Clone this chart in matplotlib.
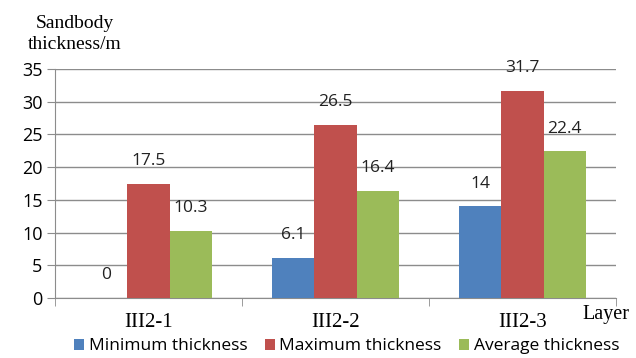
import matplotlib
matplotlib.use("Agg")
import matplotlib.pyplot as plt
import numpy as np

layers = ["III2-1", "III2-2", "III2-3"]
series_names = ["Minimum thickness", "Maximum thickness", "Average thickness"]
minimum = [0, 6.1, 14]
maximum = [17.5, 26.5, 31.7]
average = [10.3, 16.4, 22.4]
colors = ["#4F81BD", "#C0504D", "#9BBB59"]

fig = plt.figure(figsize=(6.36, 3.58), dpi=100)
ax = fig.add_axes([0.0865, 0.1676, 0.882, 0.6394])

x = np.arange(len(layers))
w = 0.225
grid_c = "#8C8C8C"
sans = ["Open Sans", "DejaVu Sans"]
serif = ["Liberation Serif", "DejaVu Serif"]
for i, (vals, name, c) in enumerate(zip([minimum, maximum, average], series_names, colors)):
    pos = x + (i - 1) * w
    ax.bar(pos, vals, width=w, color=c, label=name, zorder=3)
    for px, v in zip(pos, vals):
        ax.annotate(f"{v:g}", (px, v), xytext=(0, 16.5), textcoords="offset points",
                    ha="center", va="center", fontsize=12.5,
                    family=sans, color="#222222")

ax.set_xlim(-0.5, 2.5)
ax.set_ylim(0, 35)
ax.set_yticks(range(0, 36, 5))
ax.yaxis.grid(True, color=grid_c, linewidth=1.0, zorder=0)
ax.set_axisbelow(True)
for s in ["top", "right"]:
    ax.spines[s].set_visible(False)
ax.spines["left"].set_color(grid_c)
ax.spines["bottom"].set_color(grid_c)
ax.tick_params(axis="y", length=6, color=grid_c, labelsize=13, pad=3)
ax.tick_params(axis="x", length=0)
for lbl in ax.get_yticklabels():
    lbl.set_family(sans)

ax.set_xticks(x)
ax.set_xticklabels(layers, family=serif, fontsize=15)
ax.tick_params(axis="x", pad=10.5)
ax.set_xticks([-0.5, 0.5, 1.5, 2.5], minor=True)
ax.tick_params(axis="x", which="minor", length=6, color=grid_c)

fig.text(0.118, 0.905, "Sandbody\nthickness/m", ha="center", va="center",
         family=serif, fontsize=14, linespacing=1.35)
fig.text(0.99, 0.122, "Layer", ha="right", va="center",
         family=serif, fontsize=14.5)

fig.legend(loc="center", bbox_to_anchor=(0.545, 0.033), ncol=3, frameon=False,
           prop={"family": sans, "size": 12.5},
           handlelength=0.6, handleheight=0.6, handletextpad=0.25, columnspacing=1.0)

fig.savefig("out.png", dpi=100)
